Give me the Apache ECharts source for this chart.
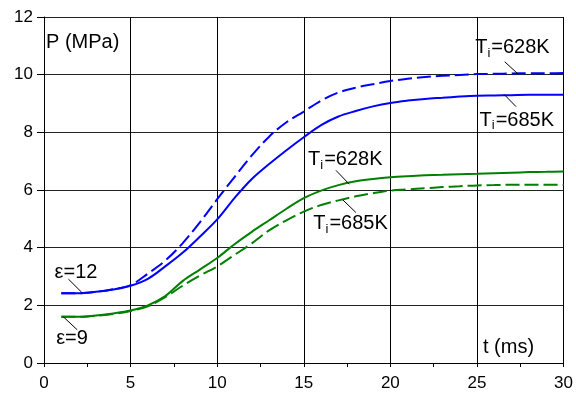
<!DOCTYPE html>
<html>
<head>
<meta charset="utf-8">
<script src="https://cdn.jsdelivr.net/npm/echarts@6/dist/echarts.min.js"></script>
<style>
  html, body { margin: 0; padding: 0; background: #fff; }
  #chart { width: 576px; height: 398px; }
</style>
</head>
<body>
<div id="chart"></div>
<script>
// time axis (ms)
const time = [1,2,3,4,5,6,7,8,9,10,11,12,13,14,15,16,17,18,19,20,21,22,23,24,25,26,27,28,29,30];

// pressure (MPa), compression ratio 12
const eps12_T628 = [2.42,2.42,2.47,2.56,2.70,3.10,3.55,4.15,4.88,5.68,6.45,7.20,7.85,8.35,8.72,9.10,9.38,9.55,9.67,9.78,9.86,9.92,9.96,9.99,10.02,10.03,10.04,10.05,10.05,10.06];
const eps12_T685 = [2.42,2.42,2.47,2.55,2.68,2.92,3.35,3.82,4.38,4.98,5.72,6.38,6.90,7.38,7.83,8.25,8.55,8.74,8.90,9.02,9.10,9.16,9.20,9.24,9.27,9.28,9.29,9.30,9.30,9.30];

// pressure (MPa), compression ratio 9
const eps9_T628 = [1.60,1.60,1.65,1.72,1.82,2.00,2.32,2.84,3.24,3.64,4.12,4.55,4.95,5.35,5.72,5.98,6.17,6.30,6.38,6.44,6.48,6.51,6.53,6.55,6.56,6.58,6.60,6.62,6.63,6.64];
const eps9_T685 = [1.60,1.60,1.64,1.70,1.80,1.97,2.28,2.68,3.03,3.35,3.75,4.15,4.60,4.95,5.25,5.48,5.64,5.78,5.89,5.98,6.02,6.06,6.10,6.13,6.16,6.17,6.18,6.18,6.18,6.18];

const xTicks = [0,5,10,15,20,25,30];
const yTicks = [0,2,4,6,8,10,12];

const FONT = 'Liberation Sans, Arial, sans-serif';
const BLUE = '#0000ff';
const GREEN = '#008000';

function pairs(xs, ys) { return xs.map((x, i) => [x, ys[i]]); }

// text annotation placed in data space
function note(text, coord) {
  return {
    coord: coord,
    symbol: 'rect',
    symbolSize: [1, 1],
    itemStyle: { color: 'rgba(0,0,0,0)' },
    label: {
      show: true,
      position: 'inside',
      align: 'center',
      verticalAlign: 'middle',
      formatter: text,
      color: '#000',
      fontFamily: FONT,
      rich: {
        t: { fontSize: 20, fontFamily: FONT, color: '#000' },
        s: { fontSize: 13, fontFamily: FONT, color: '#000', padding: [11, 1, 0, 0] }
      }
    }
  };
}

// short black leader line from label to curve
function leader(a, b) {
  return [{ coord: a }, { coord: b }];
}

const leaderStyle = {
  symbol: ['none', 'none'],
  silent: true,
  label: { show: false },
  lineStyle: { color: '#000', width: 1, type: 'solid' },
  emphasis: { disabled: true }
};

function curve(name, ys, color, dashed, notes, leaders) {
  return {
    name: name,
    type: 'line',
    data: pairs(time, ys),
    showSymbol: false,
    smooth: 0.35,
    lineStyle: { color: color, width: 2, type: dashed ? [14, 5] : 'solid' },
    itemStyle: { color: color },
    z: 3,
    markPoint: { silent: true, data: notes },
    markLine: Object.assign({ data: leaders }, leaderStyle)
  };
}

const chart = echarts.init(document.getElementById('chart'), null, { renderer: 'canvas' });

chart.setOption({
  animation: false,
  backgroundColor: '#fff',
  grid: { left: 44, right: 9, top: 17, bottom: 35, containLabel: false },
  xAxis: {
    type: 'value',
    min: 0, max: 30, interval: 5,
    axisLine: { show: true, onZero: false, lineStyle: { color: '#000', width: 1 } },
    axisTick: { show: true, length: 4, lineStyle: { color: '#000' } },
    minorTick: { show: true, splitNumber: 2, length: 4, lineStyle: { color: '#000' } },
    axisLabel: {
      color: '#000', fontSize: 17, fontFamily: FONT, margin: 12,
      formatter: v => (xTicks.indexOf(v) >= 0 ? String(v) : '')
    },
    splitLine: { show: true, lineStyle: { color: '#000', width: 1 } }
  },
  yAxis: {
    type: 'value',
    min: 0, max: 12, interval: 2,
    axisLine: { show: true, onZero: false, lineStyle: { color: '#000', width: 1 } },
    axisTick: { show: true, length: 7, lineStyle: { color: '#000' } },
    axisLabel: {
      color: '#000', fontSize: 17, fontFamily: FONT, margin: 11,
      formatter: v => (yTicks.indexOf(v) >= 0 ? String(v) : '')
    },
    splitLine: { show: true, lineStyle: { color: '#222', width: 1 } }
  },
  graphic: [
    { type: 'text', left: 46, top: 32, silent: true,
      style: { text: 'P (MPa)', fontSize: 20, fontFamily: FONT, fill: '#000' } },
    { type: 'text', left: 483, top: 337, silent: true,
      style: { text: 't (ms)', fontSize: 20, fontFamily: FONT, fill: '#000' } }
  ],
  series: [
    curve('ε=12, Ti=628K', eps12_T628, BLUE, true,
      [note('{t|T}{s|i}{t|=628K}', [27.05, 10.93])],
      [leader([26.6, 10.45], [27.36, 10.03])]),
    curve('ε=12, Ti=685K', eps12_T685, BLUE, false,
      [note('{t|T}{s|i}{t|=685K}', [27.3, 8.42]), note('{t|ε=12}', [1.85, 3.13])],
      [leader([26.56, 9.32], [27.26, 8.89]), leader([1.41, 2.91], [2.18, 2.45])]),
    curve('ε=9, Ti=628K', eps9_T628, GREEN, false,
      [note('{t|T}{s|i}{t|=628K}', [17.4, 7.05])],
      [leader([16.86, 6.68], [17.63, 6.2])]),
    curve('ε=9, Ti=685K', eps9_T685, GREEN, true,
      [note('{t|T}{s|i}{t|=685K}', [17.7, 4.83]), note('{t|ε=9}', [1.62, 0.84])],
      [leader([17.25, 5.66], [18.01, 5.22]), leader([1.12, 1.60], [1.92, 1.15])])
  ]
});
</script>
</body>
</html>
